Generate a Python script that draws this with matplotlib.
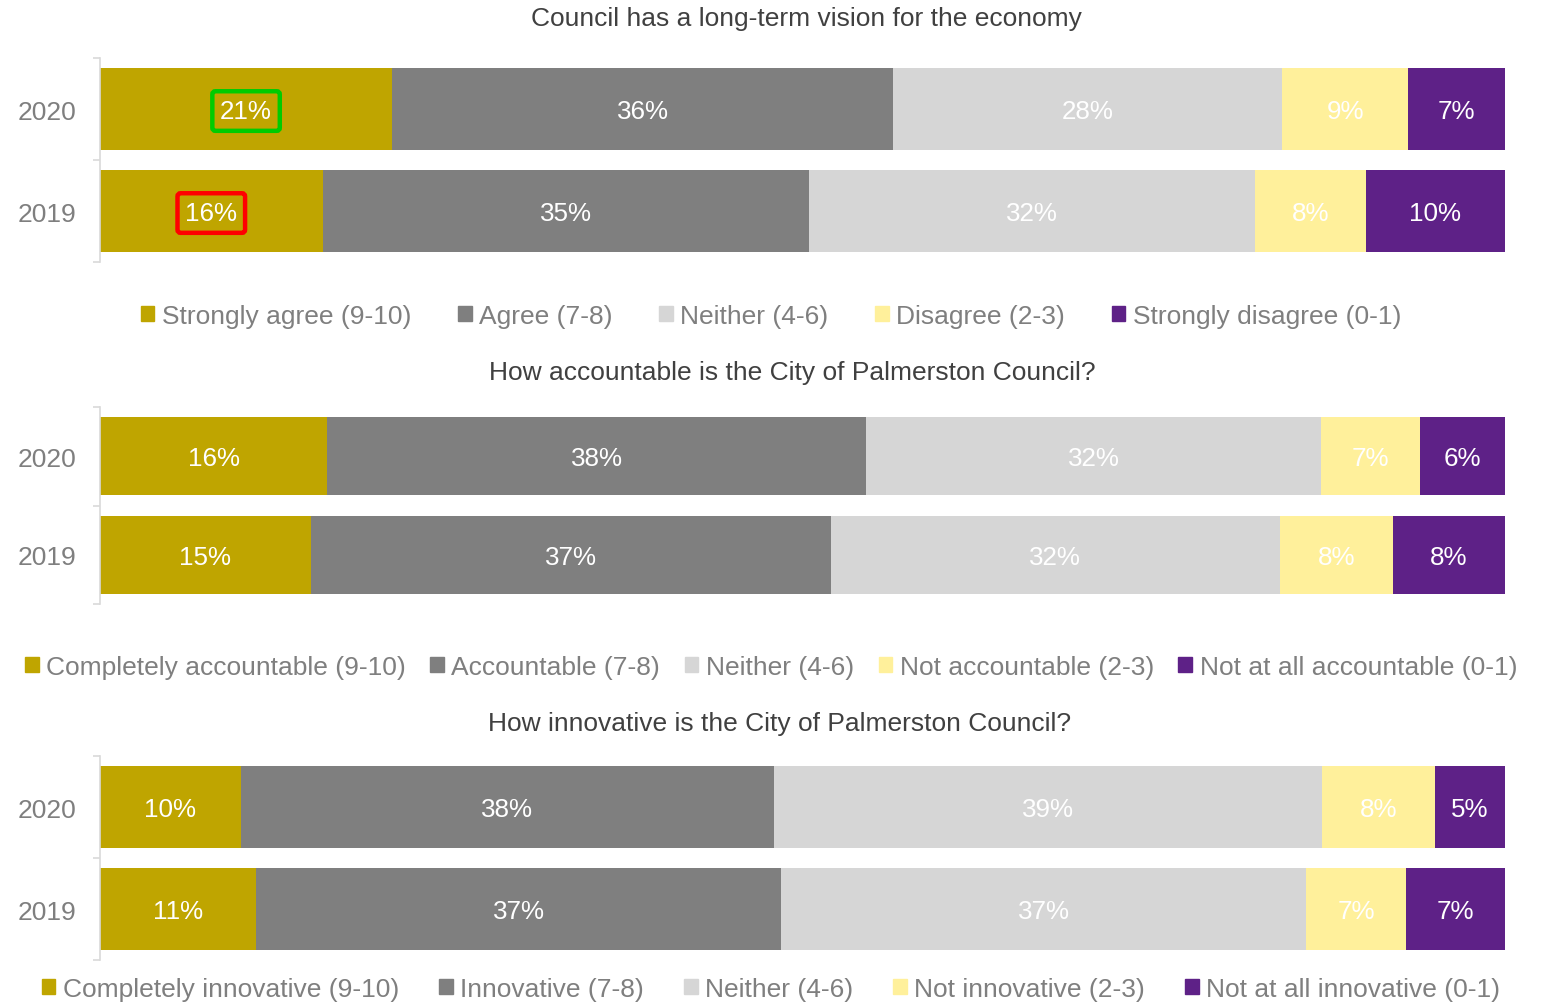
import matplotlib.pyplot as plt
from matplotlib.patches import Patch

plt.rcParams['font.family'] = ['Liberation Sans', 'DejaVu Sans']

years = ['2020', '2019']
colors = ['#BFA500', '#7F7F7F', '#D6D6D6', '#FFF09B', '#5E2187']

vision_title = 'Council has a long-term vision for the economy'
vision_labels = ['Strongly agree (9-10)', 'Agree (7-8)', 'Neither (4-6)',
                 'Disagree (2-3)', 'Strongly disagree (0-1)']
vision_2020 = [21, 36, 28, 9, 7]
vision_2019 = [16, 35, 32, 8, 10]

account_title = 'How accountable is the City of Palmerston Council?'
account_labels = ['Completely accountable (9-10)', 'Accountable (7-8)', 'Neither (4-6)',
                  'Not accountable (2-3)', 'Not at all accountable (0-1)']
account_2020 = [16, 38, 32, 7, 6]
account_2019 = [15, 37, 32, 8, 8]

innov_title = 'How innovative is the City of Palmerston Council?'
innov_labels = ['Completely innovative (9-10)', 'Innovative (7-8)', 'Neither (4-6)',
                'Not innovative (2-3)', 'Not at all innovative (0-1)']
innov_2020 = [10, 38, 39, 8, 5]
innov_2019 = [11, 37, 37, 7, 7]

W, H = 1542, 1003
fig = plt.figure(figsize=(W / 100, H / 100), dpi=100)


def px_axes(top, bottom, left=100, right=1505):
    return fig.add_axes([left / W, 1 - bottom / H, (right - left) / W, (bottom - top) / H])


def draw_panel(ax, rows, bar_h):
    for i, vals in enumerate(rows):
        total = sum(vals)
        left = 0
        for j, v in enumerate(vals):
            w = v / total
            ax.barh(i, w, left=left, height=bar_h, color=colors[j], linewidth=0)
            ax.text(left + w / 2, i + 0.02, f'{v}%', ha='center', va='center',
                    color='white', fontsize=18.7)
            left += w
    ax.set_xlim(0, 1)
    ax.set_ylim(len(rows) - 0.5, -0.5)
    ax.set_yticks(range(len(rows)))
    ax.set_yticklabels(years, fontsize=19, color='#7F7F7F')
    ax.set_yticks([-0.5, 0.5, 1.5], minor=True)
    ax.tick_params(axis='y', which='major', length=0, pad=17)
    ax.tick_params(axis='y', which='minor', length=5, color='#D9D9D9', width=1.2)
    ax.set_xticks([])
    for s in ['top', 'right', 'bottom']:
        ax.spines[s].set_visible(False)
    ax.spines['left'].set_color('#D9D9D9')
    ax.spines['left'].set_linewidth(1.2)


def add_legend(labels, y_px, spacing):
    handles = [Patch(color=c, label=l) for c, l in zip(colors, labels)]
    fig.legend(handles=handles, loc='center', bbox_to_anchor=(771 / W, 1 - y_px / H),
               ncol=5, frameon=False, fontsize=19, labelcolor='#7F7F7F',
               handlelength=0.52, handleheight=0.52, handletextpad=0.28,
               columnspacing=spacing, borderpad=0, borderaxespad=0)


def add_title(text, x_px, y_px):
    fig.text(x_px / W, 1 - y_px / H, text, ha='center', va='center',
             fontsize=19, color='#404040')


ax1 = px_axes(59, 263)
draw_panel(ax1, [vision_2020, vision_2019], 0.80)
add_title(vision_title, 806, 19)
add_legend(vision_labels, 317, 1.77)

# highlighted labels on the first panel
box = dict(boxstyle='round,pad=0.3,rounding_size=0.12', fc='none', lw=3.2)
ax1.texts[0].set_bbox({**box, 'ec': '#00CC00'})
ax1.texts[5].set_bbox({**box, 'ec': '#FF0000'})

ax2 = px_axes(408, 605)
draw_panel(ax2, [account_2020, account_2019], 0.79)
add_title(account_title, 792, 373)
add_legend(account_labels, 668, 0.93)

ax3 = px_axes(757, 961)
draw_panel(ax3, [innov_2020, innov_2019], 0.80)
add_title(innov_title, 780, 724)
add_legend(innov_labels, 990, 1.52)

fig.savefig('out.png', dpi=100)
